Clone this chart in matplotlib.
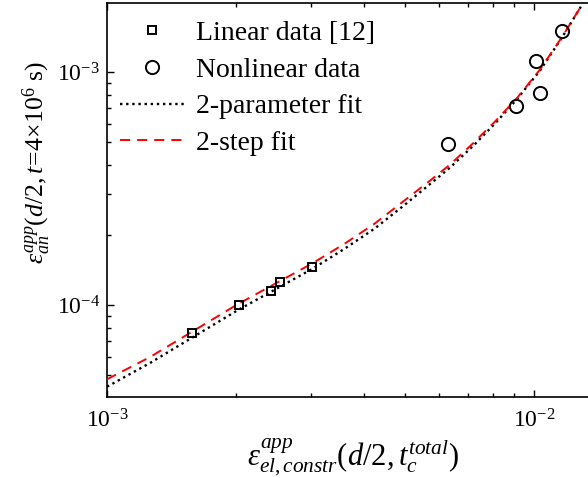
import matplotlib
matplotlib.use("Agg")
import matplotlib.pyplot as plt
from matplotlib.ticker import LogLocator, LogFormatterSciNotation, NullFormatter

plt.rcParams['font.family'] = ['Liberation Serif', 'DejaVu Serif']
plt.rcParams['mathtext.fontset'] = 'custom'
plt.rcParams['mathtext.rm'] = 'Liberation Serif'
plt.rcParams['mathtext.it'] = 'Liberation Serif:italic'
plt.rcParams['mathtext.bf'] = 'Liberation Serif:bold'
plt.rcParams['axes.unicode_minus'] = False

# Measured points
linear_x = [1.58e-3, 2.04e-3, 2.42e-3, 2.54e-3, 3.02e-3]
linear_y = [7.56e-5, 1.00e-4, 1.15e-4, 1.25e-4, 1.45e-4]

nonlinear_x = [6.30e-3, 9.10e-3, 1.011e-2, 1.035e-2, 1.161e-2]
nonlinear_y = [4.90e-4, 7.18e-4, 1.114e-3, 8.10e-4, 1.50e-3]

# Fitted curves
fit_x = [1.000e-3, 1.261e-3, 2.027e-3, 3.037e-3, 3.608e-3, 4.243e-3,
         4.988e-3, 5.864e-3, 6.358e-3, 7.196e-3, 8.105e-3, 9.125e-3,
         1.033e-2, 1.163e-2, 1.302e-2]
fit2p_y = [4.46e-5, 5.64e-5, 9.52e-5, 1.435e-4, 1.748e-4, 2.134e-4,
           2.699e-4, 3.44e-4, 3.891e-4, 4.81e-4, 6.012e-4, 7.656e-4,
           1.015e-3, 1.406e-3, 1.971e-3]
fit2s_y = [4.80e-5, 5.98e-5, 1.010e-4, 1.515e-4, 1.837e-4, 2.242e-4,
           2.822e-4, 3.553e-4, 4.009e-4, 4.94e-4, 6.132e-4, 7.732e-4,
           1.025e-3, 1.413e-3, 1.971e-3]

fig = plt.figure(figsize=(5.88, 4.78), dpi=100)
ax = fig.add_axes([0.182, 0.1695, 0.838, 0.8243])

ax.plot(linear_x, linear_y, linestyle='none', marker='s', markersize=6,
        markerfacecolor='none', markeredgecolor='black', markeredgewidth=1.4,
        label='Linear data [12]', zorder=4)
ax.plot(nonlinear_x, nonlinear_y, linestyle='none', marker='o', markersize=9.5,
        markerfacecolor='none', markeredgecolor='black', markeredgewidth=1.4,
        label='Nonlinear data', zorder=4)
ax.plot(fit_x, fit2p_y, color='black', linestyle=(0, (1, 1.6)), linewidth=1.7,
        label='2-parameter fit', zorder=3)
ax.plot(fit_x, fit2s_y, color='red', linestyle=(0, (5.2, 3.6)), linewidth=1.4,
        label='2-step fit', zorder=3)

ax.set_xscale('log')
ax.set_yscale('log')
ax.set_xlim(1.0e-3, 1.426e-2)
ax.set_ylim(4.03e-5, 1.98e-3)

for axis in (ax.xaxis, ax.yaxis):
    axis.set_major_locator(LogLocator(base=10))
    axis.set_minor_locator(LogLocator(base=10, subs=range(2, 10)))
    axis.set_major_formatter(LogFormatterSciNotation())
    axis.set_minor_formatter(NullFormatter())

ax.tick_params(which='both', direction='in', top=True, right=True, width=1.0)
ax.tick_params(which='major', length=5)
ax.tick_params(which='minor', length=3)
ax.tick_params(axis='x', which='both', pad=9, labelsize=17)
ax.tick_params(axis='y', which='both', pad=5, labelsize=17)
for sp in ax.spines.values():
    sp.set_linewidth(1.2)

ax.set_xlabel(r'$ε^{app}_{el,constr}(d/2,t_c^{total})$', fontsize=22)
ax.set_ylabel(r'$ε^{app}_{an}(d/2,t\!=\!4\!\times\!10^6\ \mathrm{s})$', fontsize=18.5)
ax.xaxis.set_label_coords(0.5, -0.10)
ax.yaxis.set_label_coords(-0.11, 0.595)

ax.legend(loc='upper left', bbox_to_anchor=(0.026, 0.955), frameon=False,
          fontsize=20, handlelength=2.35, handletextpad=0.4,
          labelspacing=0.4, borderaxespad=0, borderpad=0, numpoints=1)

fig.savefig('out.png', dpi=100)
